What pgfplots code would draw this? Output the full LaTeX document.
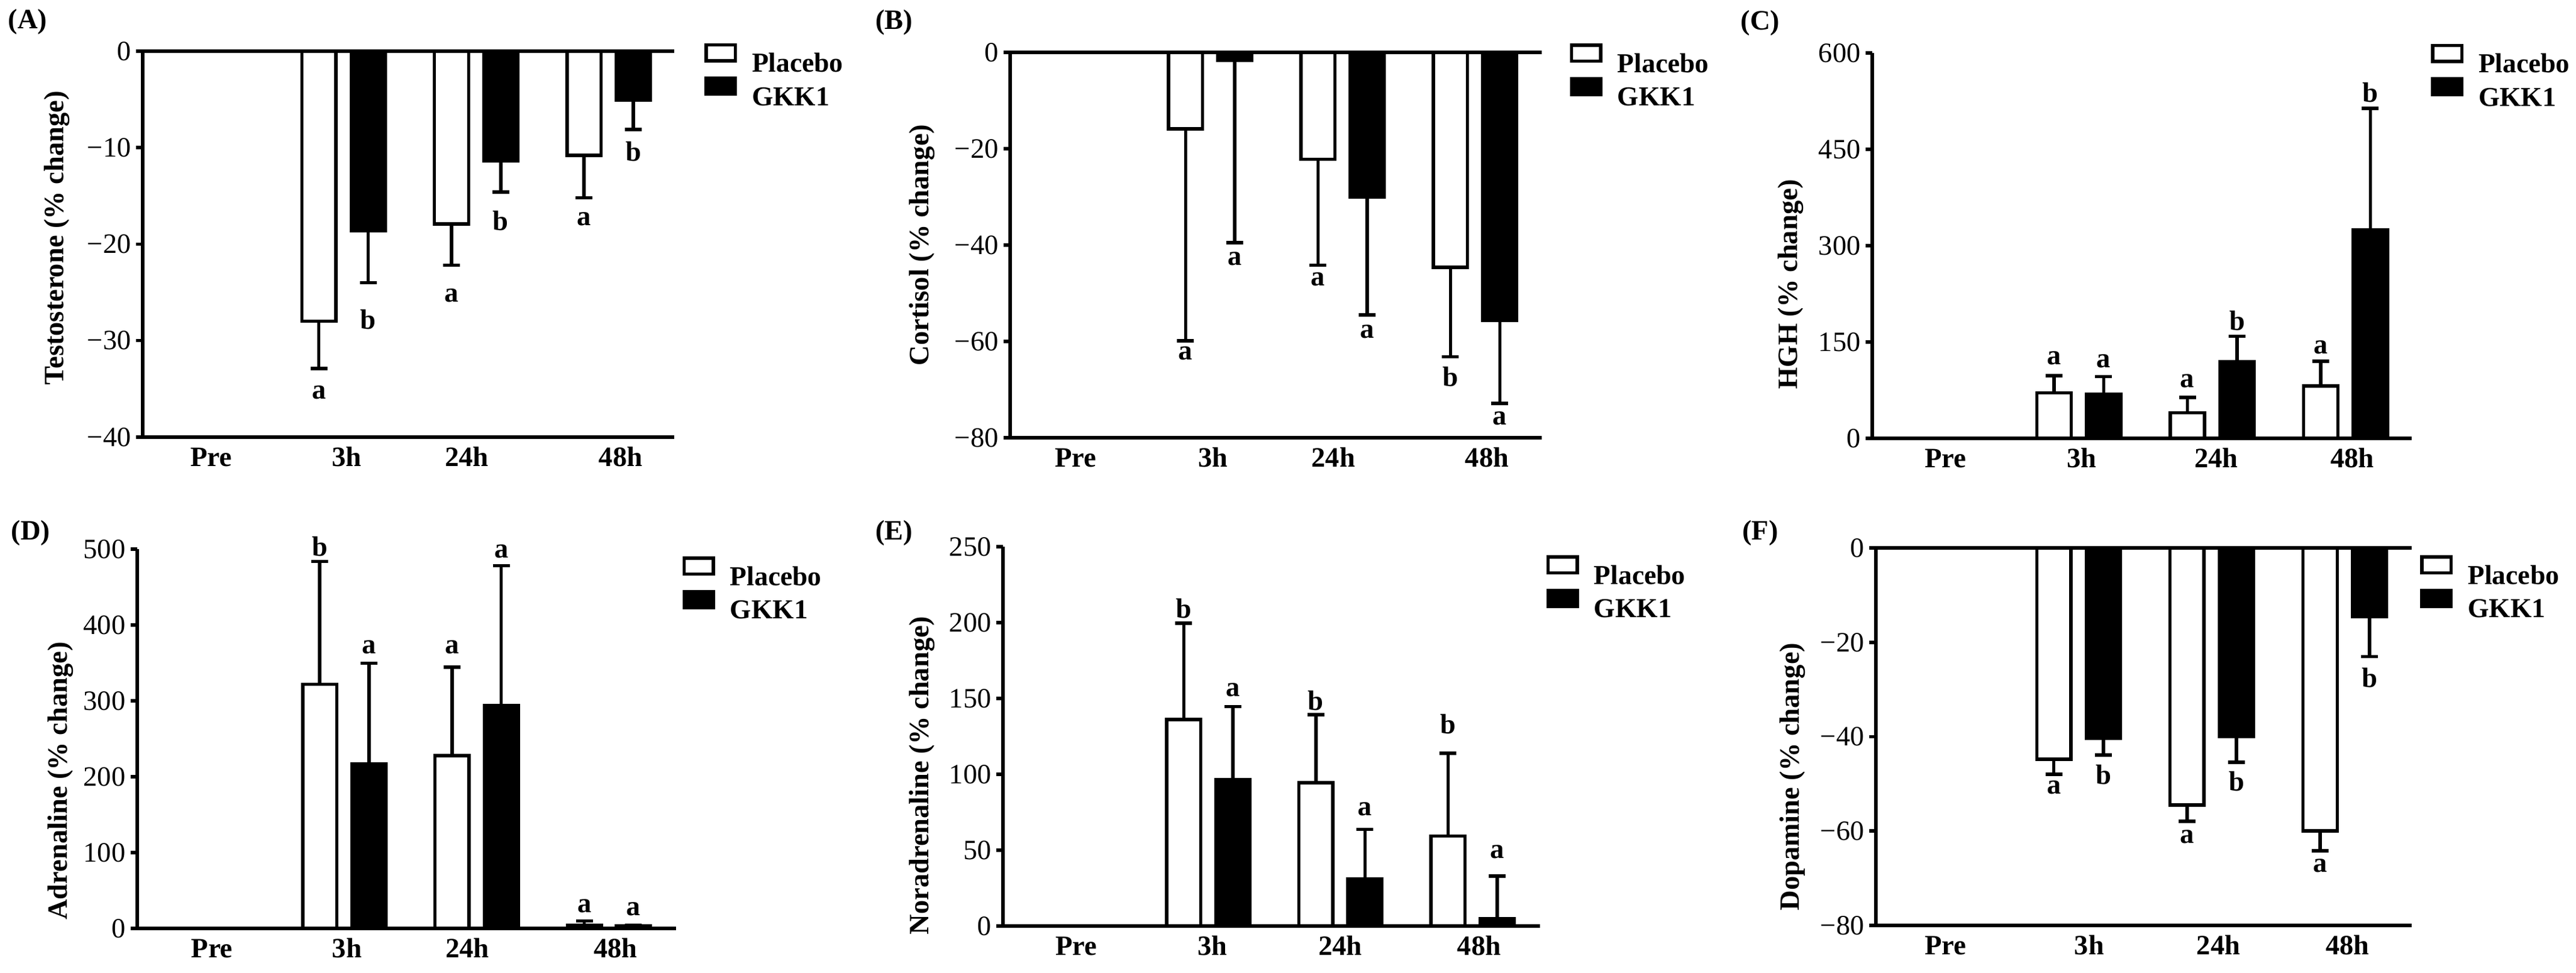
\documentclass[border=0pt]{standalone}
\usepackage{fontspec}
\setmainfont{Liberation Serif}
\usepackage{pgfplots}
\pgfplotsset{compat=1.18}
\newcommand{\fs}{\fontsize{9.3}{11}\selectfont}
\newcommand{\lfs}{\fontsize{9.1}{11}\selectfont}
\pgfplotsset{
 panel/.style={
  scale only axis,
  axis lines*=left,
  axis line style={line width=1.3pt},
  clip=false,
  xticklabels={Pre,3h,24h,48h},
  x tick style={draw=none},
  y tick style={line width=1.1pt, black},
  tick align=outside,
  major tick length=2.2pt,
  xticklabel style={font=\fs\bfseries, inner sep=0pt, text height=6.4pt, text depth=0pt, yshift=-1pt},
  yticklabel style={font=\fs, inner sep=0pt, xshift=-1.5pt},
  ylabel style={font=\fs\bfseries, anchor=center},
  legend style={draw=none, fill=none, inner sep=0pt, anchor=north west, row sep=1.5pt, column sep=5pt,
    nodes={inner sep=0pt, text height=6.4pt, text depth=0pt, font=\lfs\bfseries}},
  legend cell align=left,
  legend image code/.code={\draw[##1,line width=1.1pt] (0.55pt,0.55pt) rectangle (10.25pt,5.85pt);},
 },
 ebar/.style={error bars/y explicit, error bars/y dir=#1,
   error bars/error bar style={line width=1.1pt, black},
   error bars/error mark options={rotate=90, mark size=2.8pt, line width=1.1pt, black}},
 pbar/.style={ybar, bar width=0.257, bar shift=0pt, draw=black, fill=white, line width=1.1pt, ebar=#1},
 gbar/.style={ybar, bar width=0.257, bar shift=0pt, draw=black, fill=black, line width=1.1pt, ebar=#1},
}
\tikzset{lab/.style={font=\fs\bfseries, inner sep=0pt}}
\begin{document}
\begin{tikzpicture}
\useasboundingbox (0,0) rectangle (855.8pt,323.2pt);
% Titles
\node[lab] at (9.2pt,316pt) {(A)};
\node[lab] at (297pt,315.8pt) {(B)};
\node[lab] at (584.8pt,315.6pt) {(C)};
\node[lab] at (10.2pt,146.2pt) {(D)};
\node[lab] at (297pt,146.2pt) {(E)};
\node[lab] at (584.8pt,146.2pt) {(F)};

% (A) Testosterone
\begin{axis}[panel, at={(47.4pt,178pt)}, anchor=south west, width=176.6pt, height=128.2pt,
  xmin=-0.515, xmax=3.494, ymin=-40, ymax=0,
  xtick={0,1.025,1.93,3.09},
  ytick={-40,-30,-20,-10,0}, yticklabels={−40,−30,−20,−10,0},
  ylabel={Testosterone (\% change)}, ylabel style={at={(axis description cs:-0.161,0.516)}},
  legend style={at={(1.0555,1.022)}}]
\addlegendimage{draw=black, fill=white}\addlegendentry{Placebo}
\addlegendimage{draw=black, fill=black}\addlegendentry{GKK1}
\addplot[forget plot, pbar=minus] coordinates {(0.814,-28.0) +- (0,4.9) (1.814,-17.9) +- (0,4.3) (2.814,-10.8) +- (0,4.4)};
\addplot[forget plot, gbar=minus] coordinates {(1.186,-18.6) +- (0,5.4) (2.186,-11.4) +- (0,3.2) (3.186,-5.1) +- (0,3.0)};
\draw[line width=1.3pt] (rel axis cs:0,1) -- (rel axis cs:1,1);
\node[lab] at (axis cs:0.814,-35.4) {a};
\node[lab] at (axis cs:1.186,-27.8) {b};
\node[lab] at (axis cs:1.814,-25.3) {a};
\node[lab] at (axis cs:2.186,-17.6) {b};
\node[lab] at (axis cs:2.814,-17.4) {a};
\node[lab] at (axis cs:3.186,-10.4) {b};
\end{axis}

% (B) Cortisol
\begin{axis}[panel, at={(335.6pt,177.8pt)}, anchor=south west, width=176.6pt, height=128pt,
  xmin=-0.51, xmax=3.503, ymin=-80, ymax=0,
  xtick={-0.015,1.02,1.93,3.09},
  ytick={-80,-60,-40,-20,0}, yticklabels={−80,−60,−40,−20,0},
  ylabel={Cortisol (\% change)}, ylabel style={at={(axis description cs:-0.166,0.5)}},
  legend style={at={(1.052,1.025)}}]
\addlegendimage{draw=black, fill=white}\addlegendentry{Placebo}
\addlegendimage{draw=black, fill=black}\addlegendentry{GKK1}
\addplot[forget plot, pbar=minus] coordinates {(0.814,-15.9) +- (0,44.0) (1.814,-22.2) +- (0,22.0) (2.814,-44.6) +- (0,18.6)};
\addplot[forget plot, gbar=minus] coordinates {(1.186,-1.7) +- (0,37.8) (2.186,-30.0) +- (0,24.5) (3.186,-55.7) +- (0,17.2)};
\draw[line width=1.3pt] (rel axis cs:0,1) -- (rel axis cs:1,1);
\node[lab] at (axis cs:0.814,-62.5) {a};
\node[lab] at (axis cs:1.186,-42.9) {a};
\node[lab] at (axis cs:1.814,-47.1) {a};
\node[lab] at (axis cs:2.186,-58.0) {a};
\node[lab] at (axis cs:2.814,-67.3) {b};
\node[lab] at (axis cs:3.186,-76.0) {a};
\end{axis}

% (C) HGH
\begin{axis}[panel, at={(622pt,177.6pt)}, anchor=south west, width=179.2pt, height=128pt,
  xmin=-0.55, xmax=3.496, ymin=0, ymax=600,
  xtick={0,1.02,2.03,3.05},
  ytick={0,150,300,450,600}, yticklabels={0,150,300,450,600},
  ylabel={HGH (\% change)}, ylabel style={at={(axis description cs:-0.151,0.4)}},
  legend style={at={(1.0346,1.025)}}]
\addlegendimage{draw=black, fill=white}\addlegendentry{Placebo}
\addlegendimage{draw=black, fill=black}\addlegendentry{GKK1}
\addplot[forget plot, pbar=plus] coordinates {(0.814,70.7) +- (0,26.9) (1.814,39.9) +- (0,24.0) (2.814,81.7) +- (0,38.5)};
\addplot[forget plot, gbar=plus] coordinates {(1.186,68.8) +- (0,27.4) (2.186,119.2) +- (0,39.5) (3.186,324.5) +- (0,189.0)};
\node[lab] at (axis cs:0.814,125) {a};
\node[lab] at (axis cs:1.186,120.2) {a};
\node[lab] at (axis cs:1.814,88.9) {a};
\node[lab] at (axis cs:2.186,182.7) {b};
\node[lab] at (axis cs:2.814,141.8) {a};
\node[lab] at (axis cs:3.186,538.5) {b};
\end{axis}

% (D) Adrenaline
\begin{axis}[panel, at={(45.6pt,14.8pt)}, anchor=south west, width=179pt, height=126pt,
  xmin=-0.565, xmax=3.507, ymin=0, ymax=500,
  xtick={0,1.02,1.93,3.05},
  ytick={0,100,200,300,400,500}, yticklabels={0,100,200,300,400,500},
  ylabel={Adrenaline (\% change)}, ylabel style={at={(axis description cs:-0.143,0.389)}},
  legend style={at={(1.011,0.982)}}]
\addlegendimage{draw=black, fill=white}\addlegendentry{Placebo}
\addlegendimage{draw=black, fill=black}\addlegendentry{GKK1}
\addplot[forget plot, pbar=plus] coordinates {(0.814,322) +- (0,161.7) (1.814,227.8) +- (0,116.8) (2.814,4) +- (0,5.8)};
\addplot[forget plot, gbar=plus] coordinates {(1.186,217.2) +- (0,132.3) (2.186,293.7) +- (0,184.3) (3.186,3) +- (0,1)};
\node[lab] at (axis cs:0.814,503.3) {b};
\node[lab] at (axis cs:1.186,371) {a};
\node[lab] at (axis cs:1.814,371) {a};
\node[lab] at (axis cs:2.186,497.2) {a};
\node[lab] at (axis cs:2.814,29.3) {a};
\node[lab] at (axis cs:3.186,25.2) {a};
\end{axis}

% (E) Noradrenaline
\begin{axis}[panel, at={(333.2pt,15.6pt)}, anchor=south west, width=178.4pt, height=126pt,
  xmin=-0.554, xmax=3.51, ymin=0, ymax=250,
  xtick={0,1.03,2.0,3.05},
  ytick={0,50,100,150,200,250}, yticklabels={0,50,100,150,200,250},
  ylabel={Noradrenaline (\% change)}, ylabel style={at={(axis description cs:-0.151,0.397)}},
  legend style={at={(1.011,0.979)}}]
\addlegendimage{draw=black, fill=white}\addlegendentry{Placebo}
\addlegendimage{draw=black, fill=black}\addlegendentry{GKK1}
\addplot[forget plot, pbar=plus] coordinates {(0.814,136.2) +- (0,63.4) (1.814,94.5) +- (0,44.7) (2.814,59.3) +- (0,54.5)};
\addplot[forget plot, gbar=plus] coordinates {(1.186,96.5) +- (0,48.2) (2.186,30.9) +- (0,32.7) (3.186,4.7) +- (0,28.2)};
\node[lab] at (axis cs:0.814,209.3) {b};
\node[lab] at (axis cs:1.186,155.5) {a};
\node[lab] at (axis cs:1.814,148.4) {b};
\node[lab] at (axis cs:2.186,77.2) {a};
\node[lab] at (axis cs:2.814,133.1) {b};
\node[lab] at (axis cs:3.186,48.8) {a};
\end{axis}

% (F) Dopamine
\begin{axis}[panel, at={(623.2pt,15.8pt)}, anchor=south west, width=178pt, height=125.4pt,
  xmin=-0.523, xmax=3.502, ymin=-80, ymax=0,
  xtick={0,1.08,2.05,3.02},
  ytick={-80,-60,-40,-20,0}, yticklabels={−80,−60,−40,−20,0},
  ylabel={Dopamine (\% change)}, ylabel style={at={(axis description cs:-0.156,0.394)}},
  legend style={at={(1.015,0.982)}}]
\addlegendimage{draw=black, fill=white}\addlegendentry{Placebo}
\addlegendimage{draw=black, fill=black}\addlegendentry{GKK1}
\addplot[forget plot, pbar=minus] coordinates {(0.814,-44.8) +- (0,3.2) (1.814,-54.5) +- (0,3.4) (2.814,-60.0) +- (0,4.2)};
\addplot[forget plot, gbar=minus] coordinates {(1.186,-40.3) +- (0,3.6) (2.186,-40.0) +- (0,5.4) (3.186,-14.6) +- (0,8.4)};
\draw[line width=1.3pt] (rel axis cs:0,1) -- (rel axis cs:1,1);
\node[lab] at (axis cs:0.814,-50.7) {a};
\node[lab] at (axis cs:1.186,-48.1) {b};
\node[lab] at (axis cs:1.814,-61.2) {a};
\node[lab] at (axis cs:2.186,-49.4) {b};
\node[lab] at (axis cs:2.814,-67.4) {a};
\node[lab] at (axis cs:3.186,-27.5) {b};
\end{axis}
\end{tikzpicture}
\end{document}
